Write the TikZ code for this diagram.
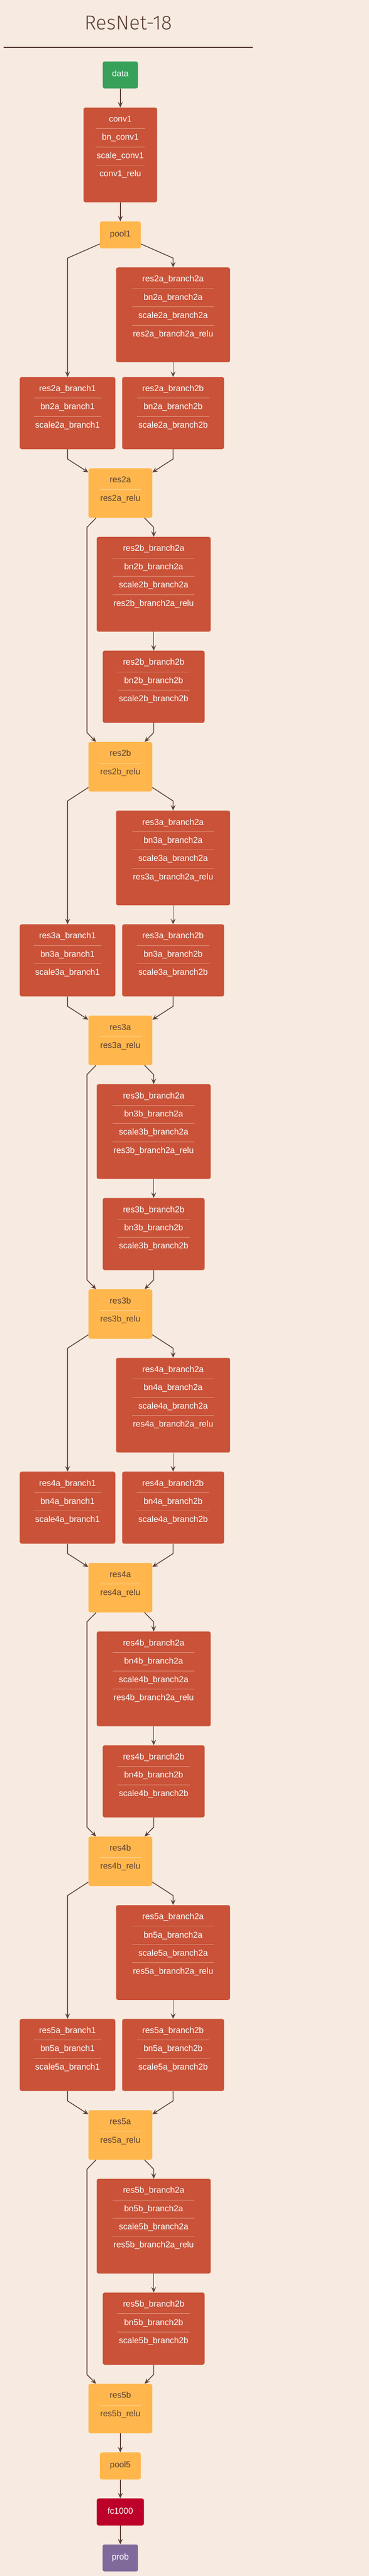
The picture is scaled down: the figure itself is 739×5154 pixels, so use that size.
\documentclass[tikz,border=0pt]{standalone}
\usepackage{fontspec}
\setmainfont{Liberation Sans}
\IfFontExistsTF{Fira Sans Light}{\newfontfamily\titlefont{Fira Sans Light}}{\newfontfamily\titlefont{Liberation Sans}}
\usetikzlibrary{shapes.geometric, arrows.meta}
\definecolor{paper}{HTML}{F7EBE1}
\definecolor{ink}{HTML}{5D4037}
\definecolor{convred}{HTML}{C95238}
\definecolor{convline}{HTML}{E1937F}
\definecolor{sumyellow}{HTML}{FFB74D}
\definecolor{sumline}{HTML}{FFD598}
\definecolor{datagreen}{HTML}{37A15A}
\definecolor{fcred}{HTML}{BD0029}
\definecolor{probpurple}{HTML}{806A9C}
\newcommand{\rsep}{\\\raisebox{4pt}{\color{convline}\rule{\linewidth}{1pt}}\\}
\newcommand{\ysep}{\\\raisebox{4pt}{\color{sumline}\rule{\linewidth}{1pt}}\\}
\tikzstyle{blob} = [rectangle, rounded corners=4pt, minimum height=54pt, inner sep=0pt, text height=11pt, text depth=4pt, font=\fontsize{17}{18.25}\selectfont]
\tikzstyle{layer} = [rectangle, rounded corners=4pt, fill=convred, text=white, align=center, inner sep=0pt, font=\fontsize{17}{18.25}\selectfont, execute at begin node={\rule{0pt}{28.6pt}}]
\tikzstyle{fourrow} = [layer, minimum width=228.5pt, text width=163.5pt, execute at end node={\rule[-51.5pt]{0pt}{51.5pt}}]
\tikzstyle{stem} = [layer, minimum width=147.5pt, text width=99pt, execute at end node={\rule[-51.5pt]{0pt}{51.5pt}}]
\tikzstyle{shortcut} = [layer, minimum width=191.3pt, text width=135.2pt, execute at end node={\rule[-42.7pt]{0pt}{42.7pt}}]
\tikzstyle{threerow} = [layer, minimum width=204.2pt, text width=145.2pt, execute at end node={\rule[-42.7pt]{0pt}{42.7pt}}]
\tikzstyle{eltsum} = [layer, fill=sumyellow, text=ink, minimum width=127.8pt, text width=83pt, execute at end node={\rule[-34pt]{0pt}{34pt}}]
\tikzstyle{arrow} = [line width=1.6pt, ink, ->, >={Stealth[length=11pt,width=10pt,inset=4.5pt]}]

\begin{document}
\begin{tikzpicture}[x=1pt, y=1pt, node distance=160pt]

			\fill [paper] (0,0) rectangle (739,-5154);
			\useasboundingbox (0,0) rectangle (739,-5154);

			\node (title) [font=\titlefont\fontsize{40}{48}\selectfont, text=ink, anchor=base] at (257,-59.7) {ResNet-18};
			\draw [ink, line width=1.5pt] (7,-95) -- (506.6,-95);

			\node (data) [blob, fill=datagreen, text=white, minimum width=70.7pt] at (241,-150) {data};
			\node (conv1) [stem, below of=data] {conv1\rsep bn\_conv1\rsep scale\_conv1\rsep conv1\_relu};
			\node (pool1) [blob, fill=sumyellow, text=ink, minimum width=82pt, below of=conv1] {pool1};

			\node (res2a2a) [fourrow, below of=pool1, xshift=105.7pt] {res2a\_branch2a\rsep bn2a\_branch2a\rsep scale2a\_branch2a\rsep res2a\_branch2a\_relu};
			\node (res2a2b) [threerow, below of=res2a2a, yshift=-36.5pt] {res2a\_branch2b\rsep bn2a\_branch2b\rsep scale2a\_branch2b};
			\node (res2a1) [shortcut, left of=res2a2b, xshift=-51.4pt] {res2a\_branch1\rsep bn2a\_branch1\rsep scale2a\_branch1};
			\node (res2a) [eltsum, below of=res2a2b, xshift=-105.7pt] {res2a\ysep res2a\_relu};

			\node (res2b2a) [fourrow, below of=res2a, xshift=66.8pt, yshift=-22.5pt] {res2b\_branch2a\rsep bn2b\_branch2a\rsep scale2b\_branch2a\rsep res2b\_branch2a\_relu};
			\node (res2b2b) [threerow, below of=res2b2a, yshift=-45pt] {res2b\_branch2b\rsep bn2b\_branch2b\rsep scale2b\_branch2b};
			\node (res2b) [eltsum, below of=res2b2b, xshift=-66.8pt] {res2b\ysep res2b\_relu};

			\node (res3a2a) [fourrow, below of=res2b, xshift=105.7pt, yshift=-22.5pt] {res3a\_branch2a\rsep bn3a\_branch2a\rsep scale3a\_branch2a\rsep res3a\_branch2a\_relu};
			\node (res3a2b) [threerow, below of=res3a2a, yshift=-45pt] {res3a\_branch2b\rsep bn3a\_branch2b\rsep scale3a\_branch2b};
			\node (res3a1) [shortcut, left of=res3a2b, xshift=-51.4pt] {res3a\_branch1\rsep bn3a\_branch1\rsep scale3a\_branch1};
			\node (res3a) [eltsum, below of=res3a2b, xshift=-105.7pt] {res3a\ysep res3a\_relu};

			\node (res3b2a) [fourrow, below of=res3a, xshift=66.8pt, yshift=-22.5pt] {res3b\_branch2a\rsep bn3b\_branch2a\rsep scale3b\_branch2a\rsep res3b\_branch2a\_relu};
			\node (res3b2b) [threerow, below of=res3b2a, yshift=-45pt] {res3b\_branch2b\rsep bn3b\_branch2b\rsep scale3b\_branch2b};
			\node (res3b) [eltsum, below of=res3b2b, xshift=-66.8pt] {res3b\ysep res3b\_relu};

			\node (res4a2a) [fourrow, below of=res3b, xshift=105.7pt, yshift=-22.5pt] {res4a\_branch2a\rsep bn4a\_branch2a\rsep scale4a\_branch2a\rsep res4a\_branch2a\_relu};
			\node (res4a2b) [threerow, below of=res4a2a, yshift=-45pt] {res4a\_branch2b\rsep bn4a\_branch2b\rsep scale4a\_branch2b};
			\node (res4a1) [shortcut, left of=res4a2b, xshift=-51.4pt] {res4a\_branch1\rsep bn4a\_branch1\rsep scale4a\_branch1};
			\node (res4a) [eltsum, below of=res4a2b, xshift=-105.7pt] {res4a\ysep res4a\_relu};

			\node (res4b2a) [fourrow, below of=res4a, xshift=66.8pt, yshift=-22.5pt] {res4b\_branch2a\rsep bn4b\_branch2a\rsep scale4b\_branch2a\rsep res4b\_branch2a\_relu};
			\node (res4b2b) [threerow, below of=res4b2a, yshift=-45pt] {res4b\_branch2b\rsep bn4b\_branch2b\rsep scale4b\_branch2b};
			\node (res4b) [eltsum, below of=res4b2b, xshift=-66.8pt] {res4b\ysep res4b\_relu};

			\node (res5a2a) [fourrow, below of=res4b, xshift=105.7pt, yshift=-22.5pt] {res5a\_branch2a\rsep bn5a\_branch2a\rsep scale5a\_branch2a\rsep res5a\_branch2a\_relu};
			\node (res5a2b) [threerow, below of=res5a2a, yshift=-45pt] {res5a\_branch2b\rsep bn5a\_branch2b\rsep scale5a\_branch2b};
			\node (res5a1) [shortcut, left of=res5a2b, xshift=-51.4pt] {res5a\_branch1\rsep bn5a\_branch1\rsep scale5a\_branch1};
			\node (res5a) [eltsum, below of=res5a2b, xshift=-105.7pt] {res5a\ysep res5a\_relu};

			\node (res5b2a) [fourrow, below of=res5a, xshift=66.8pt, yshift=-22.5pt] {res5b\_branch2a\rsep bn5b\_branch2a\rsep scale5b\_branch2a\rsep res5b\_branch2a\_relu};
			\node (res5b2b) [threerow, below of=res5b2a, yshift=-45pt] {res5b\_branch2b\rsep bn5b\_branch2b\rsep scale5b\_branch2b};
			\node (res5b) [eltsum, below of=res5b2b, xshift=-66.8pt] {res5b\ysep res5b\_relu};

			\node (pool5) [blob, fill=sumyellow, text=ink, minimum width=82pt, below of=res5b, yshift=45.2pt] {pool5};
			\node (fc1000) [blob, fill=fcred, text=white, minimum width=94.7pt, below of=pool5, yshift=68pt] {fc1000};
			\node (prob) [blob, fill=probpurple, text=white, minimum width=71pt, below of=fc1000, yshift=68pt] {prob};

			\draw [arrow] (data) -- (conv1);
			\draw [arrow] (conv1) -- (pool1);

			\draw [arrow] (pool1) -- ++(-105.7,-46.4) -- (res2a1);
			\draw [arrow] (pool1) -- ++(105.7,-46.4) -- (res2a2a);
			\draw [arrow] (res2a2a) -- (res2a2b);
			\draw [arrow] (res2a1) -- ++(0,-91.8) -- (res2a);
			\draw [arrow] (res2a2b) -- ++(0,-91.8) -- (res2a);

			\draw [arrow] (res2a) -- ++(66.8,-68.5) -- (res2b2a);
			\draw [arrow] (res2b2a) -- (res2b2b);
			\draw [arrow] (res2b2b) -- ++(0,-91.8) coordinate (m2b) -- (res2b);
			\draw [arrow] (res2a) -- ++(-66.8,-68.5) coordinate (k2b) -- (k2b |- m2b) -- (res2b);

			\draw [arrow] (res2b) -- ++(-105.7,-68.5) -- (res3a1);
			\draw [arrow] (res2b) -- ++(105.7,-68.5) -- (res3a2a);
			\draw [arrow] (res3a2a) -- (res3a2b);
			\draw [arrow] (res3a1) -- ++(0,-91.8) -- (res3a);
			\draw [arrow] (res3a2b) -- ++(0,-91.8) -- (res3a);

			\draw [arrow] (res3a) -- ++(66.8,-68.5) -- (res3b2a);
			\draw [arrow] (res3b2a) -- (res3b2b);
			\draw [arrow] (res3b2b) -- ++(0,-91.8) coordinate (m3b) -- (res3b);
			\draw [arrow] (res3a) -- ++(-66.8,-68.5) coordinate (k3b) -- (k3b |- m3b) -- (res3b);

			\draw [arrow] (res3b) -- ++(-105.7,-68.5) -- (res4a1);
			\draw [arrow] (res3b) -- ++(105.7,-68.5) -- (res4a2a);
			\draw [arrow] (res4a2a) -- (res4a2b);
			\draw [arrow] (res4a1) -- ++(0,-91.8) -- (res4a);
			\draw [arrow] (res4a2b) -- ++(0,-91.8) -- (res4a);

			\draw [arrow] (res4a) -- ++(66.8,-68.5) -- (res4b2a);
			\draw [arrow] (res4b2a) -- (res4b2b);
			\draw [arrow] (res4b2b) -- ++(0,-91.8) coordinate (m4b) -- (res4b);
			\draw [arrow] (res4a) -- ++(-66.8,-68.5) coordinate (k4b) -- (k4b |- m4b) -- (res4b);

			\draw [arrow] (res4b) -- ++(-105.7,-68.5) -- (res5a1);
			\draw [arrow] (res4b) -- ++(105.7,-68.5) -- (res5a2a);
			\draw [arrow] (res5a2a) -- (res5a2b);
			\draw [arrow] (res5a1) -- ++(0,-91.8) -- (res5a);
			\draw [arrow] (res5a2b) -- ++(0,-91.8) -- (res5a);

			\draw [arrow] (res5a) -- ++(66.8,-68.5) -- (res5b2a);
			\draw [arrow] (res5b2a) -- (res5b2b);
			\draw [arrow] (res5b2b) -- ++(0,-91.8) coordinate (m5b) -- (res5b);
			\draw [arrow] (res5a) -- ++(-66.8,-68.5) coordinate (k5b) -- (k5b |- m5b) -- (res5b);

			\draw [arrow] (res5b) -- (pool5);
			\draw [arrow] (pool5) -- (fc1000);
			\draw [arrow] (fc1000) -- (prob);

		\end{tikzpicture}
\end{document}
